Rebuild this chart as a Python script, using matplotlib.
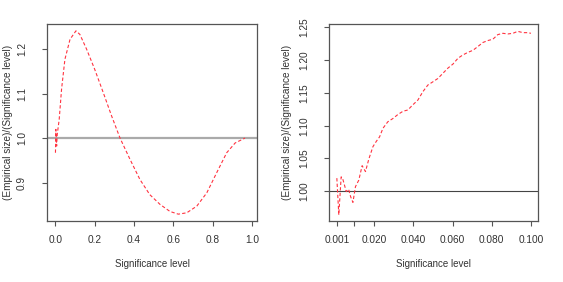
import matplotlib
matplotlib.use('Agg')
import matplotlib.pyplot as plt
import numpy as np

plt.rcParams['font.family'] = ['Liberation Sans', 'DejaVu Sans']

# 左图数据: 0~1 显著性水平
alpha_full = [0.001, 0.003, 0.007, 0.010, 0.02, 0.032, 0.049, 0.075, 0.105, 0.125,
              0.159, 0.2, 0.244, 0.286, 0.329, 0.38, 0.43, 0.48, 0.532, 0.583,
              0.625, 0.668, 0.719, 0.77, 0.82, 0.871, 0.914, 0.964]
ratio_full = [0.967, 1.0195, 0.982, 1.008, 1.042, 1.11, 1.177, 1.222, 1.241, 1.233,
              1.2, 1.155, 1.102, 1.05, 1.0, 0.952, 0.907, 0.873, 0.851, 0.835,
              0.829, 0.832, 0.847, 0.877, 0.922, 0.967, 0.989, 1.0]

# 右图数据: 0.001~0.1 显著性水平
alpha_small = [0.001, 0.002, 0.0032, 0.004, 0.0058, 0.007, 0.008, 0.0092, 0.0105, 0.0122,
               0.0139, 0.0156, 0.0173, 0.0194, 0.0211, 0.0228, 0.0245, 0.0270, 0.0296, 0.0321,
               0.0347, 0.0372, 0.0398, 0.0423, 0.0449, 0.0474, 0.0500, 0.0525, 0.0551, 0.0577,
               0.0602, 0.0628, 0.0653, 0.0679, 0.0704, 0.0730, 0.0755, 0.0781, 0.0806, 0.0831,
               0.0857, 0.0882, 0.0908, 0.0933, 0.0959, 0.0984, 0.100]
ratio_small = [1.020, 0.964, 1.022, 1.019, 0.9995, 1.003, 0.992, 0.983, 1.007, 1.017,
               1.039, 1.030, 1.049, 1.068, 1.076, 1.083, 1.096, 1.106, 1.111, 1.117,
               1.122, 1.124, 1.132, 1.139, 1.152, 1.162, 1.167, 1.172, 1.180, 1.188,
               1.194, 1.203, 1.208, 1.212, 1.215, 1.221, 1.227, 1.230, 1.232, 1.239,
               1.241, 1.240, 1.241, 1.244, 1.242, 1.242, 1.241]

left_ticks_x = [0.0, 0.2, 0.4, 0.6, 0.8, 1.0]
left_ticks_y = [0.9, 1.0, 1.1, 1.2]
right_ticks_x = [0.001, 0.010, 0.020, 0.040, 0.060, 0.080, 0.100]
right_labels_x = ['0.001', '', '0.020', '0.040', '0.060', '0.080', '0.100']
right_ticks_y = [1.00, 1.05, 1.10, 1.15, 1.20, 1.25]

W, H = 563, 282
fig = plt.figure(figsize=(W / 100, H / 100), dpi=100)
ax1 = fig.add_axes([47 / W, 1 - 221 / H, 210 / W, 197 / H])
ax2 = fig.add_axes([329 / W, 1 - 221 / H, 209 / W, 197 / H])

red = (1.0, 0.2, 0.25)
txt = '#333333'

def style(ax, ylab_x):
    for s in ax.spines.values():
        s.set_color('#555555')
        s.set_linewidth(0.9)
    ax.tick_params(direction='out', length=3.4, width=0.8, color='#555555',
                   labelsize=7.3, labelcolor=txt, pad=6.5)
    ax.tick_params(axis='y', pad=11)
    ax.set_xlabel('Significance level', fontsize=7, color=txt)
    ax.set_ylabel('(Empirical size)/(Significance level)', fontsize=7.2, color=txt)
    ax.xaxis.label.set_va('center')
    ax.yaxis.label.set_va('center')
    ax.xaxis.set_label_coords(0.5, -43 / 197)
    ax.yaxis.set_label_coords(ylab_x, 0.5)
    for lab in ax.get_yticklabels():
        lab.set_rotation(90)
        lab.set_va('center')

ax1.axhline(1.0, color='#aaaaaa', lw=1.6, zorder=1)
ax1.plot(alpha_full, ratio_full, color=red, lw=0.8, ls=(0, (3, 2)), zorder=2)
ax1.set_xlim(-0.042, 1.025)
ax1.set_ylim(0.8136, 1.2564)
ax1.set_xticks(left_ticks_x)
ax1.set_xticklabels(['0.0', '0.2', '0.4', '0.6', '0.8', '1.0'])
ax1.set_yticks(left_ticks_y)
ax1.set_yticklabels(['0.9', '1.0', '1.1', '1.2'])
style(ax1, (8 - 47) / 210)

ax2.axhline(1.0, color='#444444', lw=0.8, zorder=1)
ax2.plot(alpha_small, ratio_small, color=red, lw=0.8, ls=(0, (3, 2)), zorder=2)
ax2.set_xlim(-0.003, 0.1036)
ax2.set_ylim(0.9546, 1.2552)
ax2.set_xticks(right_ticks_x)
ax2.set_xticklabels(right_labels_x)
ax2.set_yticks(right_ticks_y)
ax2.set_yticklabels(['1.00', '1.05', '1.10', '1.15', '1.20', '1.25'])
style(ax2, (287 - 329) / 209)

fig.savefig('out.png', dpi=100)
